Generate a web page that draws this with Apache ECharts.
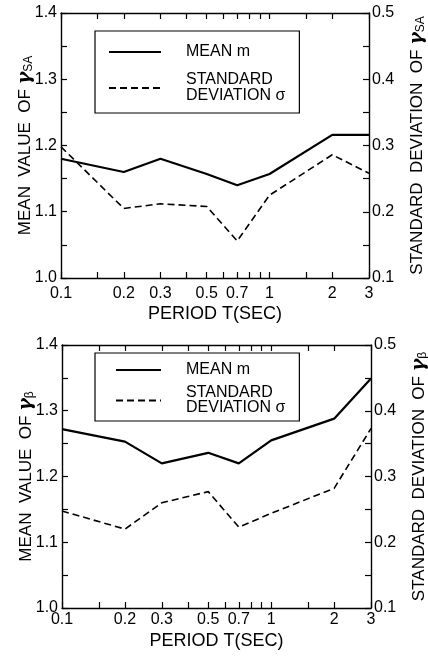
<!DOCTYPE html>
<html>
<head>
<meta charset="utf-8">
<script src="https://cdn.jsdelivr.net/npm/echarts@6/dist/echarts.min.js"></script>
<style>
html,body{margin:0;padding:0;background:#fff;}
#c{width:428px;height:656px;}
</style>
</head>
<body>
<div id="c"></div>
<script>
// ---- data ----
const periods = [0.1, 0.2, 0.3, 0.5, 0.7, 1, 2, 3];
const meanSA = [1.18, 1.16, 1.18, 1.157, 1.14, 1.157, 1.216, 1.216];
const stdSA  = [0.298, 0.205, 0.212, 0.208, 0.156, 0.225, 0.286, 0.258];
const meanB  = [1.272, 1.253, 1.22, 1.236, 1.22, 1.255, 1.288, 1.349];
const stdB   = [0.2475, 0.22, 0.26, 0.277, 0.223, 0.244, 0.282, 0.373];
const xLabelValues = [0.1, 0.2, 0.3, 0.5, 0.7, 1, 2, 3];
const xTickValues = [0.1, 0.15, 0.2, 0.3, 0.4, 0.5, 0.6, 0.7, 0.8, 0.9, 1, 1.5, 2, 3];
const meanRange = [1.0, 1.4];
const stdRange = [0.1, 0.5];
const legendNames = ['MEAN m', 'STANDARD\nDEVIATION σ'];
const xName = 'PERIOD T(SEC)';

const FONT = "'Liberation Sans', Arial, sans-serif";

const chart = echarts.init(document.getElementById('c'), null, {renderer: 'canvas'});

const rects = [
  {left: 61, top: 13, width: 308, height: 265},
  {left: 62, top: 345, width: 309, height: 263}
];
// main grids 0,1 ; overlay grids 2,3 (carry the top frame axis)
const grids = rects.concat(rects).map(r => Object.assign({outerBoundsMode: 'none'}, r));

function pairs(xs, ys){ return xs.map((x, i) => [x, ys[i]]); }
const axLine = () => ({show: true, lineStyle: {color: '#000', width: 1.4}});
const tick = (len) => ({show: true, inside: true, length: len, lineStyle: {color: '#000', width: 1.2}});

function nameRich(){
  return {
    t: {fontFamily: FONT, fontSize: 17, color: '#000'},
    g: {fontFamily: 'DejaVu Serif', fontStyle: 'italic', fontWeight: 'bold', fontSize: 19, color: '#000'},
    s: {fontFamily: FONT, fontSize: 12, color: '#000', padding: [8, 0, 0, 0]}
  };
}

const xAxes = [], yAxes = [], series = [];
const subs = ['SA', 'β'];
rects.forEach((r, gi) => {
  xAxes.push({
    gridIndex: gi, type: 'log', min: 0.1, max: 3,
    name: xName, nameLocation: 'middle', nameGap: gi === 0 ? 27 : 24,
    nameTextStyle: {fontFamily: FONT, fontSize: 18, color: '#000'},
    axisLine: axLine(),
    axisTick: Object.assign(tick(6), {customValues: xTickValues}),
    axisLabel: {show: true, margin: gi === 0 ? 8 : 4, fontFamily: FONT, fontSize: 16, color: '#000',
      customValues: xLabelValues, formatter: v => String(v)},
    splitLine: {show: false}
  });
  const sub = subs[gi];
  yAxes.push({
    gridIndex: gi, type: 'value', position: 'left', min: meanRange[0], max: meanRange[1], interval: 0.1,
    name: '{t|MEAN  VALUE  OF }{g|γ}{s|' + sub + '}', nameLocation: 'middle', nameRotate: 90,
    nameGap: 26, nameMoveOverlap: false,
    nameTextStyle: {rich: nameRich()},
    axisLine: axLine(), axisTick: tick(6),
    minorTick: {show: true, splitNumber: 2, length: 6, lineStyle: {color: '#000', width: 1.2}},
    axisLabel: {margin: 4, fontFamily: FONT, fontSize: 16, color: '#000', formatter: v => v.toFixed(1)},
    splitLine: {show: false}
  });
  yAxes.push({
    gridIndex: gi, type: 'value', position: 'right', min: stdRange[0], max: stdRange[1], interval: 0.1,
    name: '{t|STANDARD  DEVIATION  OF }{g|γ}{s|' + sub + '}', nameLocation: 'middle', nameRotate: 90,
    nameGap: 38, nameMoveOverlap: false,
    nameTextStyle: {rich: nameRich()},
    axisLine: axLine(), axisTick: tick(6),
    minorTick: {show: true, splitNumber: 2, length: 6, lineStyle: {color: '#000', width: 1.2}},
    axisLabel: {margin: 3, fontFamily: FONT, fontSize: 16, color: '#000', formatter: v => v.toFixed(1)},
    splitLine: {show: false}
  });
  const means = gi === 0 ? meanSA : meanB;
  const stds = gi === 0 ? stdSA : stdB;
  series.push({
    name: legendNames[0], type: 'line', xAxisIndex: gi, yAxisIndex: gi * 2,
    data: pairs(periods, means), symbol: 'none', silent: true,
    lineStyle: {color: '#000', width: 2.2, type: 'solid'}, itemStyle: {color: '#000'}
  });
  series.push({
    name: legendNames[1], type: 'line', xAxisIndex: gi, yAxisIndex: gi * 2 + 1,
    data: pairs(periods, stds), symbol: 'none', silent: true,
    lineStyle: {color: '#000', width: 1.6, type: [7, 4]}, itemStyle: {color: '#000'}
  });
});
// overlay grids: top frame axis with inward ticks
rects.forEach((r, gi) => {
  xAxes.push({
    gridIndex: gi + 2, type: 'log', min: 0.1, max: 3, position: 'top',
    axisLine: axLine(),
    axisTick: Object.assign(tick(6), {customValues: xTickValues}),
    axisLabel: {show: false}, splitLine: {show: false}
  });
  yAxes.push({gridIndex: gi + 2, type: 'value', min: meanRange[0], max: meanRange[1], show: false});
});

const legendText = (lh) => ({fontFamily: FONT, fontSize: 16, color: '#000', lineHeight: lh, padding: [0, 0, 0, 20]});

chart.setOption({
  animation: false,
  backgroundColor: '#fff',
  grid: grids,
  xAxis: xAxes,
  yAxis: yAxes,
  legend: [
    {orient: 'vertical', left: 95, top: 31, padding: [13, 14, 9, 13], itemGap: 12,
     itemWidth: 52, itemHeight: 14, borderColor: '#000', borderWidth: 1.2, selectedMode: false,
     itemStyle: {opacity: 0}, textStyle: legendText(16), data: legendNames},
    {orient: 'vertical', left: 95, top: 353, padding: [9, 14, 5, 20], itemGap: 7,
     itemWidth: 45, itemHeight: 14, borderColor: '#000', borderWidth: 1.2, selectedMode: false,
     itemStyle: {opacity: 0}, textStyle: legendText(15), data: legendNames}
  ],
  series: series
});
</script>
</body>
</html>
